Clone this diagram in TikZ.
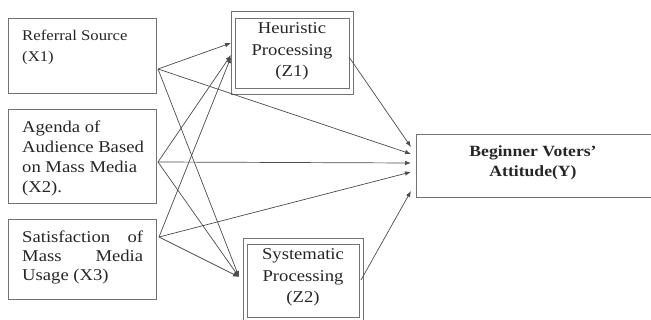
\documentclass[tikz,border=0pt]{standalone}
\usepackage{fontspec}
\setmainfont[FakeStretch=1.13]{Liberation Serif}
\usetikzlibrary{arrows.meta}
\begin{document}
\begin{tikzpicture}[x=1pt,y=-1pt,
  box/.style={draw=black!55, line width=0.9pt},
  lbl/.style={anchor=base west, inner sep=0pt, text=black!85, font=\fontsize{16.5}{20.3}\selectfont, align=left},
  clbl/.style={anchor=base, inner sep=0pt, text=black!85, font=\fontsize{16.5}{21.5}\selectfont, align=center},
  conn/.style={draw=black!70, line width=0.7pt, -{Latex[length=6pt,width=4.5pt]}}]
\useasboundingbox (0,0) rectangle (651,320);
% boxes
\draw[box] (8,18) rectangle (156,93);
\draw[box] (8,109) rectangle (156,203);
\draw[box] (8,219) rectangle (156,299);
\draw[box] (231,11) rectangle (353,94);
\draw[box] (235,18) rectangle (349,88);
\draw[box] (243,238) rectangle (363,322);
\draw[box] (247,244) rectangle (359,317);
\draw[box] (416,134) rectangle (655,197);
% texts (anchor at baseline of last line)
\node[lbl, font=\fontsize{14.8}{21.5}\selectfont] (t1) at (22,62) {Referral Source\\(X1)};
\node[lbl] (t2) at (22,193) {Agenda of\\Audience Based\\on Mass Media\\(X2).};
\node[lbl, font=\fontsize{16.5}{19}\selectfont] (t3) at (22,281) {\makebox[121pt][s]{Satisfaction\hfill of}\\\makebox[121pt][s]{Mass\hfill Media}\\Usage (X3)};
\node[clbl] (tz1) at (292,77) {Heuristic\\Processing\\(Z1)};
\node[clbl] (tz2) at (303,303) {Systematic\\Processing\\(Z2)};
\node[clbl, font=\fontsize{15.6}{20}\selectfont\bfseries] (ty) at (533,177) {Beginner Voters'\\Attitude(Y)};
% connection points
\coordinate (x1o) at (158,69);
\coordinate (x2o) at (158,162);
\coordinate (x3o) at (159,237);
\coordinate (z1i1) at (231,43);
\coordinate (z1i2) at (231,55);
\coordinate (z1i3) at (231,57);
\coordinate (z2i) at (239,277);
\coordinate (z1o) at (349,57);
\coordinate (z2o) at (361,280);
\coordinate (y1) at (411,147);
\coordinate (y2) at (411,154);
\coordinate (y3) at (411,163);
\coordinate (y4) at (411,172);
\coordinate (y5) at (411,191);
\draw[conn] (x1o) -- (z1i1);
\draw[conn] (x1o) -- (z2i);
\draw[conn] (x1o) -- (y2);
\draw[conn] (x2o) -- (z1i2);
\draw[conn] (x2o) -- (z2i);
\draw[conn] (x2o) -- (y3);
\draw[conn] (x3o) -- (z1i3);
\draw[conn] (x3o) -- (z2i);
\draw[conn] (x3o) -- (y4);
\draw[conn] (z1o) -- (y1);
\draw[conn] (z2o) -- (y5);
\end{tikzpicture}
\end{document}
